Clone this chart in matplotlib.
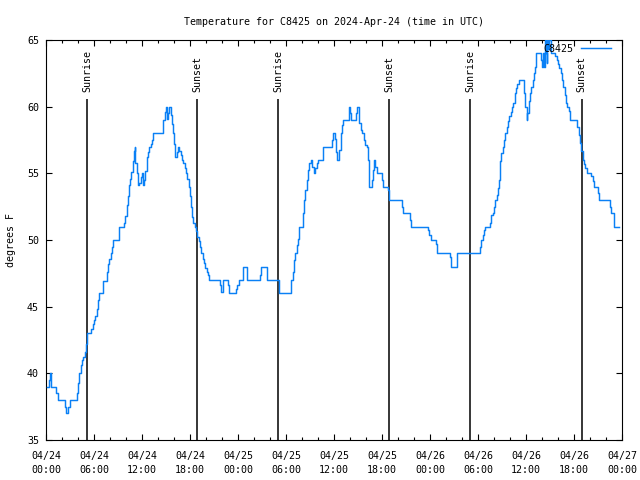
import datetime as dt
import matplotlib
matplotlib.use("Agg")
import matplotlib.pyplot as plt
import matplotlib.dates as mdates

plt.rcParams['font.family'] = ['DejaVu Sans Mono']
plt.rcParams['font.size'] = 7.2

start = dt.datetime(2024, 4, 24)

# breakpoints: hours after 04/24 00:00 UTC, temperature in F (step data)
hours = [0.08, 0.33, 0.46, 0.67, 1.25, 1.5, 2.33, 2.5, 2.75, 3.0, 3.83, 4.0, 4.17, 4.33, 4.5,
         4.67, 4.83, 5.0, 5.08, 5.67, 5.83, 6.0, 6.17, 6.33, 6.5, 6.67, 7.17, 7.67, 7.75, 7.92,
         8.08, 8.25, 8.42, 9.17, 9.75, 9.92, 10.08, 10.25, 10.42, 10.5, 10.67, 10.83, 11.0, 11.08,
         11.17, 11.33, 11.5, 11.67, 11.83, 12.0, 12.08, 12.25, 12.42, 12.58, 12.75, 12.92, 13.08,
         13.25, 13.42, 14.67, 14.83, 15.0, 15.17, 15.25, 15.42, 15.58, 15.75, 15.92, 16.0, 16.17,
         16.33, 16.5, 16.67, 16.83, 17.0, 17.17, 17.33, 17.5, 17.67, 17.83, 18.0, 18.08, 18.25,
         18.42, 18.58, 18.75, 18.92, 19.08, 19.25, 19.42, 19.58, 19.75, 19.92, 20.08, 20.25, 20.42,
         21.75, 21.92, 22.17, 22.75, 22.92, 23.75, 23.92, 24.08, 24.67, 25.08, 26.75, 26.92, 27.67,
         29.08, 30.58, 30.67, 30.83, 31.0, 31.17, 31.33, 31.5, 31.67, 32.08, 32.25, 32.42, 32.58,
         32.75, 32.92, 33.08, 33.25, 33.5, 33.67, 33.83, 34.0, 34.67, 35.75, 35.92, 36.08, 36.25,
         36.42, 36.67, 36.83, 37.0, 37.08, 37.83, 37.92, 38.0, 38.08, 38.75, 38.92, 39.08, 39.17,
         39.33, 39.5, 39.75, 39.92, 40.08, 40.25, 40.33, 40.42, 40.75, 40.83, 41.0, 41.17, 41.33,
         42.0, 42.17, 42.75, 42.92, 44.5, 44.67, 45.5, 45.67, 47.75, 47.92, 48.08, 48.75, 48.83,
         50.5, 50.67, 51.33, 51.42, 54.25, 54.42, 54.58, 54.75, 54.92, 55.5, 55.67, 55.83, 56.0,
         56.17, 56.33, 56.5, 56.58, 56.75, 56.92, 57.08, 57.25, 57.42, 57.58, 57.75, 57.92, 58.08,
         58.25, 58.42, 58.58, 58.75, 58.92, 59.08, 59.75, 59.92, 60.08, 60.17, 60.33, 60.5, 60.67,
         60.83, 61.0, 61.08, 61.25, 61.92, 62.0, 62.08, 62.25, 62.42, 62.5, 62.58, 62.67, 62.75,
         62.83, 63.08, 63.67, 63.83, 64.0, 64.17, 64.33, 64.5, 64.67, 64.83, 65.0, 65.17, 65.33,
         65.5, 66.42, 66.58, 66.75, 66.92, 67.08, 67.25, 67.42, 67.58, 68.17, 68.33, 68.5, 69.0,
         69.08, 70.5, 70.67, 71.0, 71.58]
temps = [39, 39.5, 40, 39, 38.5, 38, 37.5, 37, 37.5, 38, 38.5, 39.3, 40, 40.6, 41,
         41.2, 41.6, 42.2, 43, 43.3, 43.7, 44, 44.3, 44.8, 45.5, 46, 46.9, 47.6, 48.2, 48.6,
         49, 49.5, 50, 51, 51.3, 51.8, 52.6, 53.3, 54.1, 54.6, 55.1, 55.9, 56.7, 57,
         55.8, 55, 54.1, 54.3, 54.7, 55, 54.1, 54.5, 55.2, 56.2, 56.6, 57, 57.2,
         57.5, 58, 59, 59.6, 60, 59.1, 59.5, 60, 59.4, 58.7, 58, 57.2, 56.2,
         56.6, 57, 56.7, 56.4, 56, 55.8, 55.4, 55, 54.6, 54, 53.3, 52.5, 51.7,
         51.3, 51, 50.7, 50.2, 49.9, 49.5, 49, 48.6, 48.25, 47.9, 47.6, 47.4, 47,
         46.6, 46.1, 47, 46.6, 46, 46.3, 46.6, 47, 48, 47, 47.4, 48, 47,
         46, 46.5, 47, 47.6, 48.5, 49, 49.6, 50.1, 51, 52, 53, 53.75, 54.5,
         55.25, 55.75, 56, 55.5, 55, 55.4, 55.8, 56, 57, 57.5, 58, 57.6, 56.6,
         56, 56.75, 58, 58.6, 59, 59.5, 60, 59.5, 59, 59.5, 60, 59.4, 58.75,
         58.25, 58, 57.5, 57.1, 57, 56, 54.75, 54, 54.5, 55.25, 56, 55.5, 55,
         54.5, 54, 53.75, 53, 52.5, 52, 51.5, 51, 50.75, 50.4, 50, 49.7, 49,
         48.7, 48, 48.5, 49, 49.5, 50, 50.4, 50.75, 51, 51.3, 51.9, 52, 52.5,
         53, 53.4, 53.9, 54.5, 55.9, 56.5, 57, 57.5, 58, 58.5, 58.9, 59.3, 59.6,
         60, 60.3, 61, 61.4, 61.7, 62, 61, 60, 59, 59.5, 60.4, 61, 61.5,
         62, 62.5, 63, 64, 63.5, 63, 64, 63, 65, 64, 63.3, 65, 64.3,
         65, 64, 63.8, 63.5, 63.2, 62.9, 62.5, 62, 61.5, 60.9, 60.3, 60, 59.7,
         59, 58.5, 57.9, 57.3, 56.7, 56, 55.7, 55.4, 55, 54.8, 54.4, 54, 53.5,
         53, 52.5, 52, 51, 51]

sun_labels = ["Sunrise", "Sunset", "Sunrise", "Sunset", "Sunrise", "Sunset"]
sun_hours = [5.12, 18.9, 29.05, 42.92, 53.05, 66.94]

times = [start + dt.timedelta(hours=h) for h in hours]
sun_times = [start + dt.timedelta(hours=h) for h in sun_hours]

fig = plt.figure(figsize=(6.4, 4.8), dpi=100)
ax = fig.add_axes([46/640, 40/480, 576/640, 400/480])

ax.vlines(sun_times, 35, 60.6, colors='black', linewidth=1.1, zorder=1)
for lab, t in zip(sun_labels, sun_times):
    ax.text(t, 61.1, lab, rotation=90, ha='center', va='bottom')

ax.plot(times, temps, drawstyle='steps-post', color='#0a80f5', linewidth=1.05,
        label='C8425', zorder=3)

ax.set_xlim(start, start + dt.timedelta(hours=72))
ax.set_ylim(35, 65)
ax.set_yticks(range(35, 66, 5))
ax.xaxis.set_major_locator(mdates.HourLocator(byhour=range(0, 24, 6)))
ax.xaxis.set_minor_locator(mdates.HourLocator(byhour=range(0, 24, 2)))
ax.xaxis.set_major_formatter(mdates.DateFormatter('%m/%d\n%H:%M'))
for lab in ax.get_xticklabels():
    lab.set_linespacing(1.5)

ax.tick_params(which='both', direction='in', top=True, right=True, width=0.8)
ax.tick_params(which='major', length=4, pad=8, labelsize=7.2)
ax.tick_params(which='minor', length=2.5)
ax.tick_params(axis='y', pad=5)
for s in ax.spines.values():
    s.set_linewidth(0.8)

ax.set_ylabel('degrees F', labelpad=8)
ax.set_title('Temperature for C8425 on 2024-Apr-24 (time in UTC)', fontsize=7.2, pad=11)

ax.legend(loc='upper right', frameon=False, markerfirst=False, handlelength=3.0,
          handletextpad=0.8, borderpad=0, borderaxespad=0,
          bbox_to_anchor=((611 - 46) / 576, 1 - 4 / 400))

fig.savefig('out.png', dpi=100)
